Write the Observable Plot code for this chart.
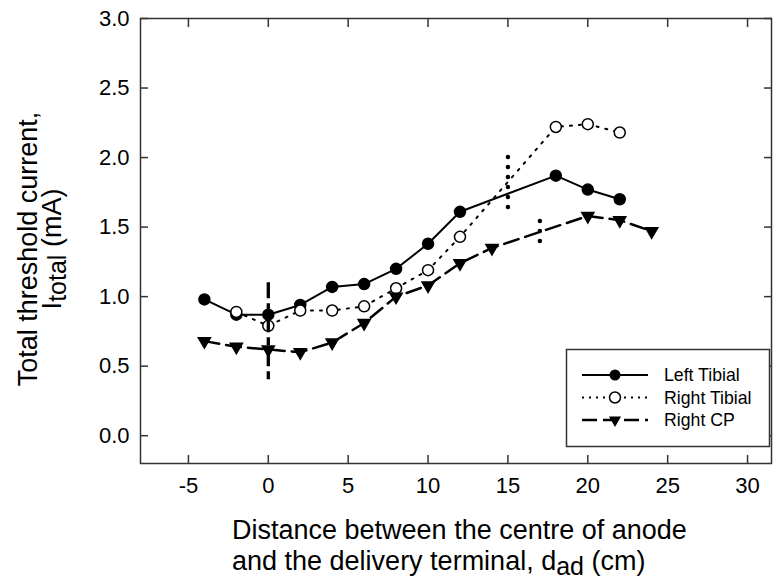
<!DOCTYPE html>
<html><head><meta charset="utf-8">
<script src="https://cdn.jsdelivr.net/npm/d3@7"></script>
<script src="https://cdn.jsdelivr.net/npm/@observablehq/plot@0.6"></script>
<style>
body{margin:0;background:#fff}
#chart svg{font-family:"Liberation Sans",Arial,sans-serif;display:block}
</style>
</head><body><div id="chart"></div>
<script>
// ---- data ----
const seriesNames = ["Left Tibial", "Right Tibial", "Right CP"];
const leftX  = [-4, -2, 0, 2, 4, 6, 8, 10, 12, 18, 20, 22];
const leftY  = [0.98, 0.87, 0.87, 0.94, 1.07, 1.09, 1.20, 1.38, 1.61, 1.87, 1.77, 1.70];
const rightX = [-2, 0, 2, 4, 6, 8, 10, 12, 18, 20, 22];
const rightY = [0.89, 0.79, 0.90, 0.90, 0.93, 1.06, 1.19, 1.43, 2.22, 2.24, 2.18];
const cpX    = [-4, -2, 0, 2, 4, 6, 8, 10, 12, 14, 20, 22, 24];
const cpY    = [0.68, 0.64, 0.62, 0.60, 0.67, 0.81, 1.00, 1.08, 1.24, 1.35, 1.58, 1.55, 1.47];
// vertical marker lines (x position, upper and lower ends)
const markX    = [0, 15, 17];
const markHigh = [1.10, 2.00, 1.54];
const markLow  = [0.40, 1.57, 1.325];
// axes
const xTicks = [-5, 0, 5, 10, 15, 20, 25, 30];
const yTicks = [0, 0.5, 1.0, 1.5, 2.0, 2.5, 3.0];
const xDomain = [-8, 31.5];
const yDomain = [-0.2, 3.0];

const left  = leftX.map((x, i) => ({x, y: leftY[i]}));
const right = rightX.map((x, i) => ({x, y: rightY[i]}));
const cp    = cpX.map((x, i) => ({x, y: cpY[i]}));
const marks = markX.map((x, i) => ({x, y1: markHigh[i], y2: markLow[i]}));

const axisStroke = "#333";
const font = "'Liberation Sans', Arial, sans-serif";
const plot = Plot.plot({
  width: 773, height: 582,
  marginLeft: 140, marginRight: 2, marginTop: 18, marginBottom: 119,
  style: {fontFamily: font, fontSize: "22px", color: "#000", background: "#fff", overflow: "visible"},
  x: {domain: xDomain},
  y: {domain: yDomain},
  marks: [
    Plot.frame({stroke: axisStroke, strokeWidth: 1.5}),
    Plot.axisX(xTicks, {anchor: "bottom", tickSize: -8, tickPadding: 22, tickFormat: d => String(d), fontSize: 22, label: null, stroke: axisStroke, strokeWidth: 1.5, fill: "#000"}),
    Plot.axisX(xTicks, {anchor: "top", tickSize: -8, tickFormat: () => "", label: null, stroke: axisStroke, strokeWidth: 1.5}),
    Plot.axisY(yTicks, {anchor: "left", tickSize: -8, tickPadding: 19, tickFormat: d3.format(".1f"), fontSize: 22, label: null, stroke: axisStroke, strokeWidth: 1.5, fill: "#000"}),
    Plot.axisY(yTicks, {anchor: "right", tickSize: -8, tickFormat: () => "", label: null, stroke: axisStroke, strokeWidth: 1.5}),
    Plot.line(left,  {x: "x", y: "y", stroke: "#000", strokeWidth: 2}),
    Plot.line(right, {x: "x", y: "y", stroke: "#000", strokeWidth: 2, strokeDasharray: "2,7"}),
    Plot.line(cp,    {x: "x", y: "y", stroke: "#000", strokeWidth: 2.5, strokeDasharray: "15,7"}),
    Plot.dot(left,  {x: "x", y: "y", r: 5.5, fill: "#000", stroke: "#000"}),
    Plot.dot(right, {x: "x", y: "y", r: 5.5, fill: "#fff", stroke: "#000", strokeWidth: 1.5}),
    Plot.dot(cp,    {x: "x", y: "y", r: 4.5, symbol: "triangle", rotate: 180, fill: "#000", stroke: "#000"}),
    Plot.ruleX(marks.slice(0, 1), {x: "x", y1: "y1", y2: "y2", stroke: "#000", strokeWidth: 3.3, strokeDasharray: "16,5,8,5"}),
    Plot.ruleX(marks.slice(1), {x: "x", y1: "y1", y2: "y2", stroke: "#000", strokeWidth: 4.5, strokeLinecap: "round", strokeDasharray: "0,10"})
  ]
});
document.getElementById("chart").appendChild(plot);

// ---- axis titles (with subscripts) ----
const svg = d3.select(plot);
const xt = svg.append("text").attr("font-family", font).attr("font-size", 27).attr("fill", "#000").attr("text-anchor", "start");
xt.append("tspan").attr("x", 232).attr("y", 539).text("Distance between the centre of anode");
const l2 = xt.append("tspan").attr("x", 232).attr("y", 570);
l2.append("tspan").text("and the delivery terminal, d");
l2.append("tspan").attr("dy", 5).attr("font-size", 25).text("ad");
l2.append("tspan").attr("dy", -5).text(" (cm)");

const yt = svg.append("text").attr("font-family", font).attr("font-size", 27).attr("fill", "#000")
  .attr("text-anchor", "middle").attr("transform", "translate(0,249) rotate(-90)");
yt.append("tspan").attr("x", 0).attr("y", 36.5).text("Total threshold current,");
const y2 = yt.append("tspan").attr("x", 0).attr("y", 61);
y2.append("tspan").text("I");
y2.append("tspan").attr("dy", 5).attr("font-size", 25).text("total");
y2.append("tspan").attr("dy", -5).text(" (mA)");

// ---- legend ----
const lg = svg.append("g").attr("font-family", font).attr("font-size", 17.7).attr("text-anchor", "start");
lg.append("rect").attr("x", 566.5).attr("y", 349.5).attr("width", 203).attr("height", 97)
  .attr("fill", "#fff").attr("stroke", axisStroke).attr("stroke-width", 1.5);
const rows = [375, 397.5, 420];
const dashes = [null, "2,5", "15,6"];
rows.forEach((ry, i) => {
  lg.append("line").attr("x1", 582).attr("x2", 648).attr("y1", ry).attr("y2", ry)
    .attr("stroke", "#000").attr("stroke-width", i === 2 ? 2.5 : 2).attr("stroke-dasharray", dashes[i]);
  if (i === 0) lg.append("circle").attr("cx", 615).attr("cy", ry).attr("r", 5.5).attr("fill", "#000");
  if (i === 1) lg.append("circle").attr("cx", 615).attr("cy", ry).attr("r", 5.5).attr("fill", "#fff").attr("stroke", "#000").attr("stroke-width", 1.5);
  if (i === 2) lg.append("path").attr("transform", `translate(615,${ry}) rotate(180)`)
    .attr("d", d3.symbol(d3.symbolTriangle, Math.PI * 4.5 * 4.5)()).attr("fill", "#000");
  lg.append("text").attr("x", 664).attr("y", ry).attr("dy", "0.36em").attr("fill", "#000").text(seriesNames[i]);
});
</script>
</body></html>
